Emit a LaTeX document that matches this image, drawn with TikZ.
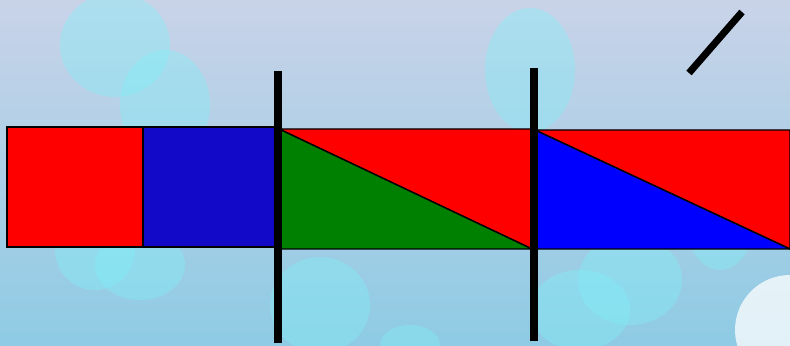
\documentclass[tikz,border=0pt]{standalone}
\usetikzlibrary{calc}
\definecolor{bgtop}{HTML}{C9D3E8}
\definecolor{bgbot}{HTML}{8ECBE4}
\definecolor{bokeh}{HTML}{80F0F8}
\definecolor{navy}{HTML}{1208C8}
\definecolor{leaf}{HTML}{008000}

\begin{document}
\begin{tikzpicture}[x=0.03cm, y=-0.03cm]
\tikzset{pane/.style={draw=black, line width=1.2pt, line join=miter}}
\tikzset{rod/.style={line width=6pt}}
\tikzset{spot/.style={fill=bokeh, opacity=0.38}}
% background
\shade[top color=bgtop, bottom color=bgbot] (0,0) rectangle (790,346);
\useasboundingbox (0,0) rectangle (790,346);
\fill[spot] (115,45) ellipse (55 and 52);
\fill[spot] (165,105) ellipse (45 and 55);
\fill[spot] (530,70) ellipse (45 and 62);
\fill[spot] (320,305) ellipse (50 and 48);
\fill[spot] (410,345) ellipse (30 and 20);
\fill[spot] (630,280) ellipse (52 and 45);
\fill[spot] (720,200) ellipse (40 and 70);
\fill[spot] (95,250) ellipse (40 and 40);
\fill[spot] (140,265) ellipse (45 and 35);
\fill[spot] (580,310) ellipse (50 and 40);
\fill[white, opacity=0.75] (790,330) ellipse (55 and 55);
% blocks
\coordinate (m1) at (279,129);
\coordinate (m2) at (532,249);
\coordinate (r1) at (535,130);
\coordinate (r2) at (790,249);
\draw[pane, fill=red] (7,127) rectangle (143,247);
\draw[pane, fill=navy] (143,127) rectangle (279,247);
\draw[pane, fill=red] (m1) -- (m1 -| m2) -- (m2) -- cycle;
\draw[pane, fill=leaf] (m1) -- (m2) -- (m2 -| m1) -- cycle;
\draw[pane, fill=red] (r1) -- (r1 -| r2) -- (r2) -- cycle;
\draw[pane, fill=blue] (r1) -- (r2) -- (r2 -| r1) -- cycle;
% rods
\draw[rod] (278,71) -- (278,343);
\draw[rod] (534,68) -- (534,341);
\draw[rod] (689,73) -- (742,12);
\end{tikzpicture}
\end{document}
